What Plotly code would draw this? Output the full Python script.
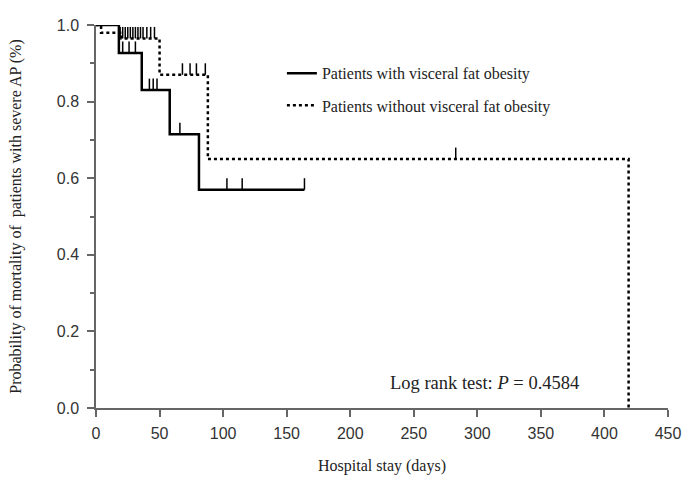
import plotly.graph_objects as go

# Kaplan-Meier step data
obese_times = [0, 18, 36, 58, 81, 164]
obese_surv = [1.0, 0.927, 0.83, 0.715, 0.57, 0.57]
obese_censor_t = [20, 22, 24, 26, 28, 30, 32, 34, 21, 26, 31, 42, 45, 48, 66, 103, 115, 164]
obese_censor_s = [1.0, 1.0, 1.0, 1.0, 1.0, 1.0, 1.0, 1.0, 0.927, 0.927, 0.927, 0.83, 0.83, 0.83, 0.715, 0.57, 0.57, 0.57]

nonobese_times = [0, 4, 20, 50, 88, 419]
nonobese_surv = [1.0, 0.98, 0.965, 0.87, 0.65, 0.0]
nonobese_censor_t = [19, 21, 23, 25, 27, 29, 31, 33, 35, 37, 40, 43, 46, 68, 74, 79, 86, 283]
nonobese_censor_s = [0.965] * 13 + [0.87] * 4 + [0.65]

x_ticks = [0, 50, 100, 150, 200, 250, 300, 350, 400, 450]
y_ticks = [0.0, 0.2, 0.4, 0.6, 0.8, 1.0]

SERIF = "Liberation Serif"
SANS = "Liberation Sans"


def step_xy(times, surv):
    xs, ys = [], []
    for i, (t, s) in enumerate(zip(times, surv)):
        if i > 0:
            xs.append(t)
            ys.append(surv[i - 1])
        xs.append(t)
        ys.append(s)
    return xs, ys


def censor_xy(ts, ss, h=0.03):
    xs, ys = [], []
    for t, s in zip(ts, ss):
        xs += [t, t, None]
        ys += [s, s + h, None]
    return xs, ys


fig = go.Figure()

ox, oy = step_xy(obese_times, obese_surv)
nx, ny = step_xy(nonobese_times, nonobese_surv)
ocx, ocy = censor_xy(obese_censor_t, obese_censor_s)
ncx, ncy = censor_xy(nonobese_censor_t, nonobese_censor_s)

fig.add_trace(go.Scatter(x=nx, y=ny, mode="lines", name="Patients without visceral fat obesity",
                         line=dict(color="black", width=2.5, dash="dot"), cliponaxis=False,
                         legend="legend2"))
fig.add_trace(go.Scatter(x=ncx, y=ncy, mode="lines", showlegend=False,
                         line=dict(color="black", width=1.5), cliponaxis=False))
fig.add_trace(go.Scatter(x=ox, y=oy, mode="lines", name="Patients with visceral fat obesity",
                         line=dict(color="black", width=2.5), cliponaxis=False, legend="legend"))
fig.add_trace(go.Scatter(x=ocx, y=ocy, mode="lines", showlegend=False,
                         line=dict(color="black", width=1.5), cliponaxis=False))

fig.add_annotation(x=0.68, y=0.065, xref="paper", yref="paper", showarrow=False,
                   xanchor="center", yanchor="middle",
                   text="Log rank test: <i>P</i> = 0.4584",
                   font=dict(family=SERIF, size=18.5, color="#222"))

legend_common = dict(xanchor="left", yanchor="middle",
                     font=dict(family=SERIF, size=16, color="#222"),
                     bgcolor="rgba(0,0,0,0)", itemwidth=30)

fig.update_layout(
    width=683, height=483,
    margin=dict(l=96, r=15, t=25, b=75, autoexpand=False),
    paper_bgcolor="white", plot_bgcolor="white",
    showlegend=True,
    legend=dict(x=0.325, y=0.874, **legend_common),
    legend2=dict(x=0.325, y=0.79, **legend_common),
    xaxis=dict(range=[0, 450], tickvals=x_ticks, ticktext=[str(v) for v in x_ticks],
               automargin=False, ticklabelstandoff=3,
               showgrid=False, zeroline=False, showline=True, linecolor="#666", linewidth=1.5,
               ticks="outside", ticklen=7, tickcolor="#666", tickwidth=1.5,
               tickfont=dict(family=SANS, size=16, color="#333"),
               title=dict(text="Hospital stay (days)", font=dict(family=SERIF, size=16, color="#222"),
                          standoff=19)),
    yaxis=dict(range=[0, 1.0], tickvals=y_ticks, ticktext=["%.1f" % v for v in y_ticks],
               automargin=False, ticklabelstandoff=5,
               showgrid=False, zeroline=False, showline=True, linecolor="#666", linewidth=1.5,
               ticks="outside", ticklen=7, tickcolor="#666", tickwidth=1.5,
               tickfont=dict(family=SANS, size=16, color="#333"),
               minor=dict(dtick=0.1, ticks="outside", ticklen=4, tickcolor="#666", tickwidth=1.5),
               title=dict(text="Probability of mortality of  patients with severe AP (%)",
                          font=dict(family=SERIF, size=16, color="#222"), standoff=31)),
)

fig.write_html("out.html")
